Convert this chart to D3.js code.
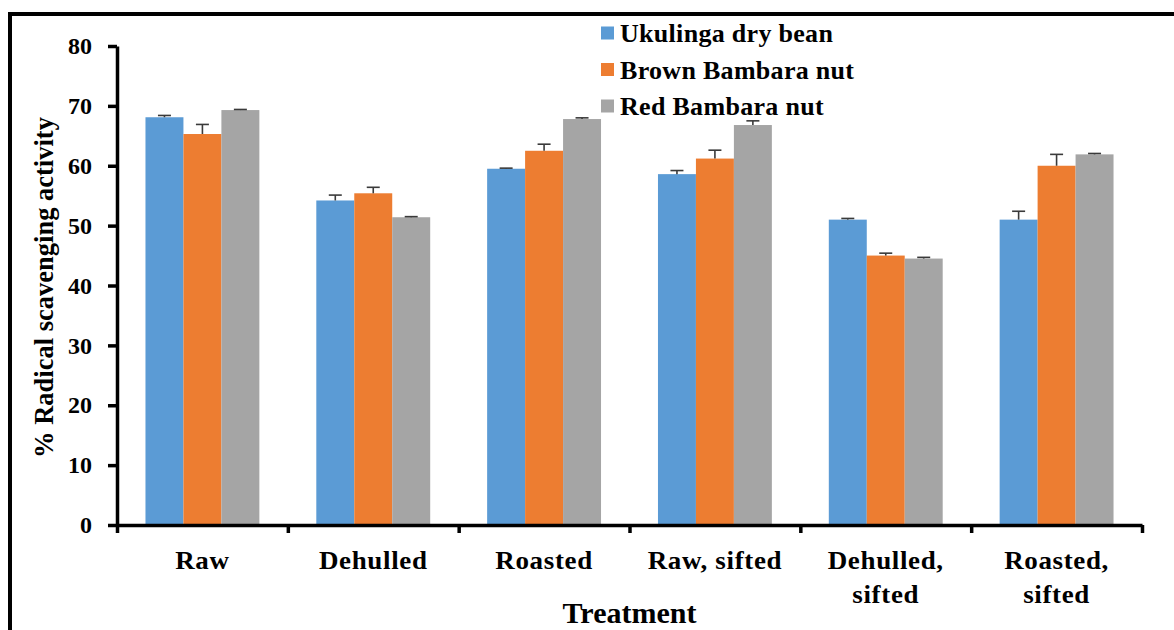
<!DOCTYPE html>
<html>
<head>
<meta charset="utf-8">
<script src="https://cdn.jsdelivr.net/npm/d3@7"></script>
<style>
html,body{margin:0;padding:0;background:#fff;}
svg{display:block;}
</style>
</head>
<body>
<svg id="chart" width="1174" height="630"></svg>
<script>
const categories = [["Raw"], ["Dehulled"], ["Roasted"], ["Raw, sifted"], ["Dehulled,", "sifted"], ["Roasted,", "sifted"]];
const seriesNames = ["Ukulinga dry bean", "Brown Bambara nut", "Red Bambara nut"];
const ukulinga = [68.1, 54.2, 59.5, 58.6, 51.0, 51.0];
const ukulingaErr = [0.3, 0.9, 0.1, 0.6, 0.2, 1.4];
const brown = [65.3, 55.4, 62.5, 61.2, 45.0, 60.0];
const brownErr = [1.6, 1.0, 1.1, 1.4, 0.4, 1.9];
const red = [69.3, 51.4, 67.8, 66.8, 44.5, 61.9];
const redErr = [0.1, 0.1, 0.2, 0.7, 0.2, 0.15];
const yTicks = [0, 10, 20, 30, 40, 50, 60, 70, 80];
const colors = ["#5B9BD5", "#ED7D31", "#A5A5A5"];
const yTitle = "% Radical scavenging activity";
const xTitle = "Treatment";

(function () {
const cands = ["Liberation Serif", "Times New Roman", "Tinos", "DejaVu Serif", "Noto Serif", "FreeSerif", "Nimbus Roman", "serif"];
const ctx = document.createElement("canvas").getContext("2d");
const probe = "Ukulinga dry bean Wwmil 0123";
function w(f) { ctx.font = "bold 25px " + f; return ctx.measureText(probe).width; }
const baseMono = w("monospace");
let fam = "serif";
for (const c of cands) {
  if (c === "serif") { fam = "serif"; break; }
  if (Math.abs(w('"' + c + '", monospace') - baseMono) > 0.5) { fam = '"' + c + '"'; break; }
}
const FONT = fam + ', serif';

const seriesVals = [ukulinga, brown, red];
const seriesErr = [ukulingaErr, brownErr, redErr];
const catKeys = categories.map(c => c.join(" "));

const svg = d3.select("#chart");
const mLeft = 117, mRight = 1142, mTop = 46, mBottom = 525;

const x0 = d3.scaleBand().domain(catKeys).range([mLeft, mRight]).padding(0);
const x1 = d3.scaleBand().domain(seriesNames).range([0, x0.bandwidth()]).paddingInner(0).paddingOuter(0.75);
const y = d3.scaleLinear().domain([0, 80]).range([mBottom, mTop]);

// frame
svg.append("line").attr("x1", 10).attr("x2", 1174).attr("y1", 14).attr("y2", 14).attr("stroke", "#000").attr("stroke-width", 4);
svg.append("line").attr("x1", 10).attr("x2", 10).attr("y1", 12).attr("y2", 630).attr("stroke", "#000").attr("stroke-width", 4);

// bars
const data = [];
catKeys.forEach((c, i) => seriesNames.forEach((s, j) => data.push({c, s, j, v: seriesVals[j][i], e: seriesErr[j][i]})));

svg.append("g").selectAll("rect").data(data).join("rect")
  .attr("x", d => x0(d.c) + x1(d.s))
  .attr("y", d => y(d.v))
  .attr("width", x1.bandwidth())
  .attr("height", d => y(0) - y(d.v))
  .attr("fill", d => colors[d.j]);

// error bars
const eg = svg.append("g").attr("stroke", "#3a3a3a").attr("stroke-width", 1.6);
data.forEach(d => {
  const cx = x0(d.c) + x1(d.s) + x1.bandwidth() / 2;
  eg.append("line").attr("x1", cx).attr("x2", cx).attr("y1", y(d.v)).attr("y2", y(d.v + d.e));
  eg.append("line").attr("x1", cx - 6.5).attr("x2", cx + 6.5).attr("y1", y(d.v + d.e)).attr("y2", y(d.v + d.e));
});

// y axis
const yAxis = svg.append("g").attr("transform", `translate(${mLeft},0)`)
  .call(d3.axisLeft(y).tickValues(yTicks).tickSize(9).tickSizeOuter(0).tickPadding(16));
yAxis.attr("font-family", FONT).attr("font-size", 24).attr("font-weight", "bold");
yAxis.select(".domain").attr("stroke", "#000").attr("stroke-width", 3.5);
yAxis.selectAll(".tick line").attr("stroke", "#000").attr("stroke-width", 3.5);
yAxis.selectAll(".tick text").attr("fill", "#000");

// x axis
const bounds = catKeys.map(c => x0(c)).concat([mRight]);
const xAxisScale = d3.scaleLinear().domain([mLeft, mRight]).range([mLeft, mRight]);
const xAxis = svg.append("g").attr("transform", `translate(0,${mBottom})`)
  .call(d3.axisBottom(xAxisScale).tickValues(bounds).tickSize(8).tickSizeOuter(0).tickFormat(""));
xAxis.select(".domain").attr("stroke", "#000").attr("stroke-width", 3.5);
xAxis.selectAll(".tick line").attr("stroke", "#000").attr("stroke-width", 3.5);

// category labels
categories.forEach((lines, i) => {
  const cx = x0(catKeys[i]) + x0.bandwidth() / 2;
  const t = svg.append("text").attr("text-anchor", "middle").attr("font-family", FONT).attr("font-weight", "bold")
    .attr("font-size", 25).style("letter-spacing", "0.6px")
    .attr("transform", `translate(${cx},0) scale(1.08,1)`);
  lines.forEach((l, k) => t.append("tspan").attr("x", 0).attr("y", 569 + k * 34).text(l));
});

// axis titles
svg.append("text").attr("text-anchor", "middle").attr("x", (mLeft + mRight) / 2).attr("y", 623)
  .attr("font-family", FONT).attr("font-weight", "bold").attr("font-size", 30).text(xTitle);
svg.append("text").attr("text-anchor", "middle")
  .attr("transform", `translate(53,${(mTop + mBottom) / 2 + 2}) rotate(-90)`)
  .attr("font-family", FONT).attr("font-weight", "bold").attr("font-size", 26.5).text(yTitle);

// legend
const lg = svg.append("g").attr("transform", "translate(601,0)");
seriesNames.forEach((s, j) => {
  const cy = 33 + j * 36.5;
  lg.append("rect").attr("x", 0).attr("y", cy - 6.5).attr("width", 13).attr("height", 13).attr("fill", colors[j]);
  lg.append("text").attr("x", 19).attr("y", cy + 9).attr("font-family", FONT).attr("font-weight", "bold")
    .attr("font-size", 26).style("letter-spacing", "0.3px").text(s);
});
})();
</script>
</body>
</html>
